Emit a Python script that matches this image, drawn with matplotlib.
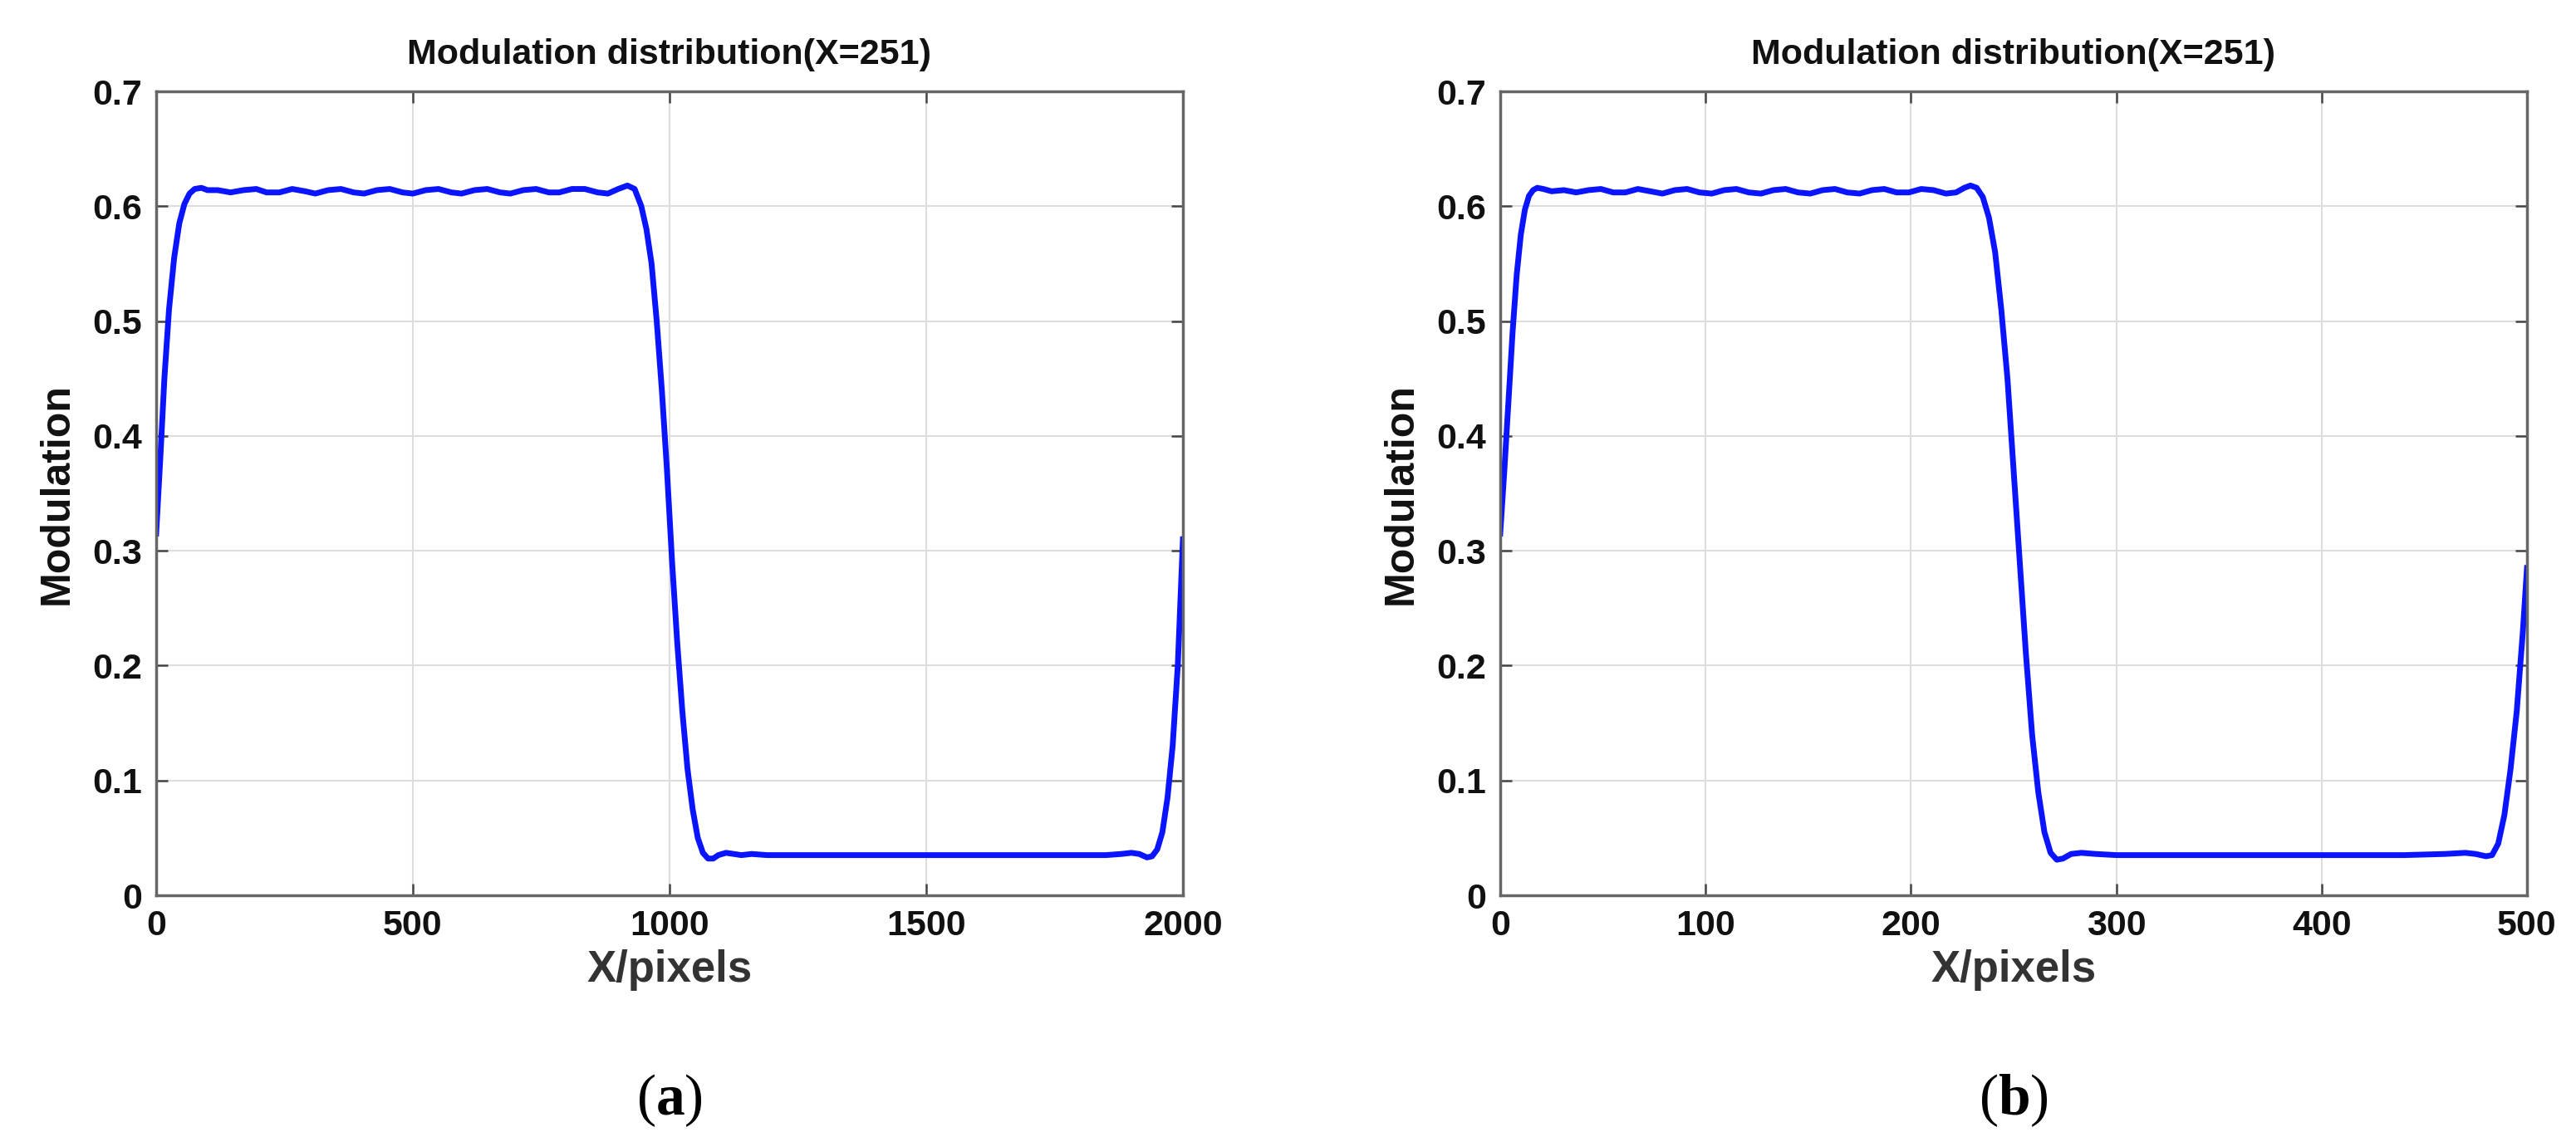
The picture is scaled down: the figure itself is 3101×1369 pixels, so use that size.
import matplotlib
matplotlib.use("Agg")
import matplotlib.pyplot as plt

plt.rcParams['mathtext.fontset'] = 'custom'
plt.rcParams['mathtext.rm'] = 'Liberation Serif'
plt.rcParams['mathtext.bf'] = 'Liberation Serif:bold'

title = "Modulation distribution(X=251)"
xlabel = "X/pixels"
ylabel = "Modulation"

xa = [0, 8, 16, 25, 35, 45, 55, 65, 75, 88, 100, 120, 145, 170, 195, 215, 240, 265, 290, 310, 335, 360, 385, 405,
      430, 455, 480, 500, 525, 550, 575, 595, 620, 645, 670, 690, 715, 740, 765, 785, 810, 835, 860, 880, 900, 918,
      932, 945, 955, 965, 975, 985, 995, 1005, 1015, 1025, 1035, 1045, 1055, 1065, 1075, 1085, 1095, 1110, 1125,
      1140, 1160, 1190, 1250, 1350, 1450, 1550, 1650, 1750, 1850, 1880, 1900, 1915, 1930, 1940, 1950, 1960, 1970,
      1980, 1990, 2000]
ya = [0.315, 0.38, 0.45, 0.51, 0.555, 0.585, 0.602, 0.611, 0.615, 0.616, 0.614, 0.614, 0.612, 0.614, 0.615,
      0.612, 0.612, 0.615, 0.613, 0.611, 0.614, 0.615, 0.612, 0.611, 0.614, 0.615, 0.612, 0.611, 0.614, 0.615,
      0.612, 0.611, 0.614, 0.615, 0.612, 0.611, 0.614, 0.615, 0.612, 0.612, 0.615, 0.615, 0.612, 0.611, 0.615,
      0.618, 0.615, 0.60, 0.58, 0.55, 0.50, 0.44, 0.37, 0.29, 0.22, 0.16, 0.11, 0.075, 0.05, 0.037, 0.032, 0.032,
      0.035, 0.037, 0.036, 0.035, 0.036, 0.035, 0.035, 0.035, 0.035, 0.035, 0.035, 0.035, 0.035, 0.036, 0.037,
      0.036, 0.033, 0.034, 0.04, 0.055, 0.085, 0.13, 0.20, 0.31]

xb = [0, 2, 4, 6, 8, 10, 12, 14, 16, 18, 21, 25, 31, 37, 43, 49, 55, 61, 67, 73, 79, 85, 91, 97, 103, 109, 115,
      121, 127, 133, 139, 145, 151, 157, 163, 169, 175, 181, 187, 193, 199, 205, 211, 217, 222, 226, 229, 232, 235,
      238, 241, 244, 247, 250, 253, 256, 259, 262, 265, 268, 271, 274, 278, 283, 290, 300, 320, 350, 380, 410, 440,
      460, 470, 475, 480, 483, 486, 489, 492, 495, 498, 500]
yb = [0.315, 0.37, 0.43, 0.49, 0.54, 0.575, 0.597, 0.609, 0.614, 0.616, 0.615, 0.613, 0.614, 0.612, 0.614, 0.615,
      0.612, 0.612, 0.615, 0.613, 0.611, 0.614, 0.615, 0.612, 0.611, 0.614, 0.615, 0.612, 0.611, 0.614, 0.615,
      0.612, 0.611, 0.614, 0.615, 0.612, 0.611, 0.614, 0.615, 0.612, 0.612, 0.615, 0.614, 0.611, 0.612, 0.616,
      0.618, 0.616, 0.608, 0.59, 0.56, 0.51, 0.45, 0.37, 0.29, 0.21, 0.14, 0.09, 0.055, 0.037, 0.031, 0.032,
      0.036, 0.037, 0.036, 0.035, 0.035, 0.035, 0.035, 0.035, 0.035, 0.036, 0.037, 0.036, 0.034, 0.035, 0.045,
      0.07, 0.11, 0.16, 0.23, 0.285]

panels = [(xa, ya, 2000, [0, 500, 1000, 1500, 2000], "a"),
          (xb, yb, 500, [0, 100, 200, 300, 400, 500], "b")]
yticks = [0, 0.1, 0.2, 0.3, 0.4, 0.5, 0.6, 0.7]
ytlabels = ["0", "0.1", "0.2", "0.3", "0.4", "0.5", "0.6", "0.7"]

W, H = 3101, 1369
fig = plt.figure(figsize=(W / 100, H / 100), dpi=100)
lefts = [188 / W, 1806 / W]
w = 1236 / W
top_px, bot_px = 110, 1078
bottom = 1 - bot_px / H
h = (bot_px - top_px) / H
font = 'Liberation Sans'
for (x, y, xmax, xt, lab), l in zip(panels, lefts):
    ax = fig.add_axes([l, bottom, w, h])
    ax.plot(x, y, color='#0a14ff', lw=5)
    ax.set_xlim(0, xmax)
    ax.set_ylim(0, 0.7)
    ax.set_xticks(xt)
    ax.set_xticklabels([str(v) for v in xt], fontsize=31, fontweight='bold', family=font)
    ax.set_yticks(yticks)
    ax.set_yticklabels(ytlabels, fontsize=31, fontweight='bold', family=font)
    ax.grid(True, color='#dddddd', lw=1.5)
    ax.tick_params(direction='in', length=10, width=1.8, colors='#444444', labelcolor='#111111',
                   top=True, right=True, pad=12)
    for s in ax.spines.values():
        s.set_color('#666666')
        s.set_linewidth(2.5)
    ax.set_title(title, fontsize=31, fontweight='bold', family=font, pad=24, color='#111111')
    ax.set_xlabel(xlabel, fontsize=38, fontweight='bold', family=font, color='#333333', labelpad=6)
    ax.set_ylabel(ylabel, fontsize=36, fontweight='bold', family=font, labelpad=14, color='#111111')
    fig.text(l + w / 2, 1 - 1325 / H, r"$(\mathbf{%s})$" % lab, ha='center', va='center', fontsize=50)

fig.savefig("out.png", dpi=100)
